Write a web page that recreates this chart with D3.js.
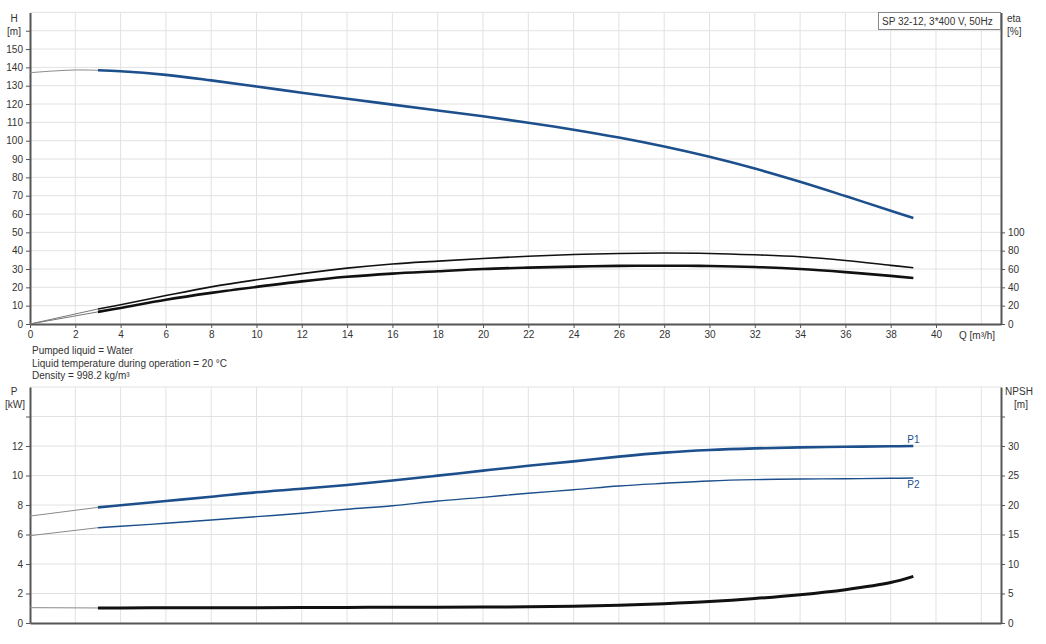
<!DOCTYPE html>
<html>
<head>
<meta charset="utf-8">
<script src="https://cdn.jsdelivr.net/npm/d3@7"></script>
<style>
  body { margin: 0; background: #fff; }
  svg { font-family: "Liberation Sans", Arial, sans-serif; }
  .axis path, .axis line { stroke: #555; }
  .axis text { fill: #333; font-size: 10px; }
  .grid line { stroke: #e2e2e2; stroke-width: 1; }
  .lbl { fill: #333; font-size: 10px; }
</style>
</head>
<body>
<div class="graph"></div>
<script>
// flow points of the operating range and of the thin start segment
const qMain = [3, 4, 6, 8, 10, 12, 14, 16, 18, 20, 22, 24, 26, 28, 30, 32, 34, 36, 38, 39];
const qStart = [0, 1, 2, 3];

const head = [138.4, 137.9, 135.9, 132.9, 129.6, 126.2, 122.9, 119.7, 116.5, 113.3, 109.8, 106, 101.7, 96.8, 91.2, 84.8, 77.6, 69.8, 61.8, 57.8];
const headStart = [137.1, 138, 138.6, 138.4];

const etaTotal = [16.4, 21, 31, 40.5, 48.2, 55, 61, 65.5, 68.6, 71.5, 74, 75.8, 77, 77.4, 77, 75.5, 73.3, 69.3, 64, 61.4];
const etaPump = [13.2, 17.5, 26.5, 34, 40.5, 46.5, 51.5, 55, 57.5, 60, 61.5, 62.6, 63.4, 63.6, 63.3, 62.2, 60, 56.6, 52.5, 50.2];
const etaTotalStart = [0, null, null, 16.4];
const etaPumpStart = [0, null, null, 13.2];

const p1 = [7.84, 7.98, 8.27, 8.56, 8.86, 9.1, 9.36, 9.66, 9.99, 10.33, 10.66, 10.96, 11.28, 11.55, 11.73, 11.84, 11.91, 11.95, 11.98, 12.0];
const p2 = [6.46, 6.56, 6.76, 6.98, 7.21, 7.44, 7.71, 7.95, 8.27, 8.52, 8.8, 9.03, 9.29, 9.47, 9.63, 9.72, 9.76, 9.78, 9.81, 9.83];
const p1Start = [7.25, null, null, 7.84];
const p2Start = [5.92, null, null, 6.46];

const npsh = [2.55, 2.56, 2.57, 2.58, 2.6, 2.62, 2.64, 2.66, 2.68, 2.7, 2.74, 2.82, 3.0, 3.28, 3.64, 4.15, 4.8, 5.65, 6.85, 7.9];
const npshStart = [2.6, null, null, 2.55];

const qTicks = d3.range(0, 41, 2);
const hTicks = d3.range(0, 161, 10);
const etaTicks = d3.range(0, 101, 20);
const pTicks = d3.range(0, 15, 2);
const npshTicks = d3.range(0, 36, 5);

const infoLines = ['Pumped liquid = Water', 'Liquid temperature during operation = 20 \u00B0C', 'Density = 998.2 kg/m\u00B3'];
const pumpName = 'SP 32-12, 3*400 V, 50Hz';

const blue = '#1c4f8c';
const W = 1046, H = 644;

const svg = d3.select('.graph').append('svg')
    .attr('width', W)
    .attr('height', H);

const x = d3.scaleLinear().domain([0, 42.87]).range([30, 1001]);

const yH = d3.scaleLinear().domain([0, 170]).range([324, 12.4]);
const yEta = d3.scaleLinear().domain([0, 340]).range([324, 12.4]);
const yP = d3.scaleLinear().domain([0, 16]).range([623, 387]);
const yN = d3.scaleLinear().domain([0, 40]).range([623, 387]);

function grid(yScale, yVals) {
  const g = svg.append('g').attr('class', 'grid');
  const [y0, y1] = yScale.range();
  g.selectAll('.v').data(d3.range(2, 43, 2)).enter().append('line')
    .attr('x1', d => x(d)).attr('x2', d => x(d))
    .attr('y1', y0).attr('y2', y1);
  g.selectAll('.h').data(yVals).enter().append('line')
    .attr('x1', x.range()[0]).attr('x2', x.range()[1])
    .attr('y1', d => yScale(d)).attr('y2', d => yScale(d));
}

grid(yH, d3.range(10, 171, 10));
grid(yP, d3.range(2, 17, 2));

// top chart axes
svg.append('g').attr('class', 'axis')
  .attr('transform', 'translate(0,324)')
  .call(d3.axisBottom(x).tickValues(qTicks).tickSize(4).tickSizeOuter(0).tickFormat(d3.format('d')));
svg.append('g').attr('class', 'axis')
  .attr('transform', 'translate(30,0)')
  .call(d3.axisLeft(yH).tickValues(hTicks).tickSize(4).tickSizeOuter(0)
    .tickFormat(d => d === 160 ? '' : d));
svg.append('g').attr('class', 'axis')
  .attr('transform', 'translate(1001,0)')
  .call(d3.axisRight(yEta).tickValues(etaTicks).tickSize(4).tickSizeOuter(0));

// bottom chart axes
svg.append('g').attr('class', 'axis')
  .attr('transform', 'translate(0,623)')
  .call(d3.axisBottom(x).tickValues([]).tickSizeOuter(0));
svg.append('g').attr('class', 'axis')
  .attr('transform', 'translate(30,0)')
  .call(d3.axisLeft(yP).tickValues(pTicks).tickSize(4).tickSizeOuter(0)
    .tickFormat(d => d === 14 ? '' : d));
svg.append('g').attr('class', 'axis')
  .attr('transform', 'translate(1001,0)')
  .call(d3.axisRight(yN).tickValues(npshTicks).tickSize(4).tickSizeOuter(0)
    .tickFormat(d => d === 35 ? '' : d));

svg.selectAll('.axis .domain').attr('stroke-width', 2);

function curve(qs, vals, yScale, color, width) {
  const pts = qs.map((q, i) => [q, vals[i]]).filter(d => d[1] != null);
  svg.append('path')
    .attr('d', d3.line().x(d => x(d[0])).y(d => yScale(d[1])).curve(d3.curveCatmullRom.alpha(0.5))(pts))
    .attr('fill', 'none')
    .attr('stroke', color)
    .attr('stroke-width', width)
    .attr('stroke-linecap', 'butt');
}

// thin start segments
curve(qStart, headStart, yH, '#8a8a8a', 1);
curve(qStart, etaTotalStart, yEta, '#777', 1);
curve(qStart, etaPumpStart, yEta, '#777', 1);
curve(qStart, p1Start, yP, '#8a8a8a', 1);
curve(qStart, p2Start, yP, '#8a8a8a', 1);
curve(qStart, npshStart, yN, '#8a8a8a', 1);

// operating range
curve(qMain, head, yH, blue, 2.6);
curve(qMain, etaTotal, yEta, '#111', 1.6);
curve(qMain, etaPump, yEta, '#111', 2.6);
curve(qMain, p1, yP, blue, 2.6);
curve(qMain, p2, yP, blue, 1.4);
curve(qMain, npsh, yN, '#111', 3);

// curve labels
svg.append('text').attr('class', 'lbl').attr('x', x(39)).attr('y', yP(p1[p1.length - 1]) - 3)
  .attr('text-anchor', 'middle').style('fill', blue).text('P1');
svg.append('text').attr('class', 'lbl').attr('x', x(39)).attr('y', yP(p2[p2.length - 1]) + 10)
  .attr('text-anchor', 'middle').style('fill', blue).text('P2');

// axis titles
const titles = [
  ['H', 14, 22, 'middle'], ['[m]', 14, 35, 'middle'],
  ['eta', 1007, 22, 'start'], ['[%]', 1007, 35, 'start'],
  ['P', 14, 395, 'middle'], ['[kW]', 15, 408, 'middle'],
  ['NPSH', 1019, 395, 'middle'], ['[m]', 1021, 408, 'middle'],
  ['Q [m\u00B3/h]', 959, 339, 'start']
];
svg.selectAll('.title').data(titles).enter().append('text')
  .attr('class', 'lbl')
  .attr('x', d => d[1]).attr('y', d => d[2])
  .attr('text-anchor', d => d[3])
  .text(d => d[0]);

svg.selectAll('.info').data(infoLines).enter().append('text')
  .attr('class', 'lbl')
  .attr('x', 32).attr('y', (d, i) => 354 + i * 12.5)
  .text(d => d);

// pump name box
svg.append('rect')
  .attr('x', 878.5).attr('y', 12.5).attr('width', 122).attr('height', 17)
  .attr('fill', '#fff').attr('stroke', '#888').attr('stroke-width', 1);
svg.append('text').attr('class', 'lbl').attr('x', 882).attr('y', 25).text(pumpName);
</script>
</body>
</html>
